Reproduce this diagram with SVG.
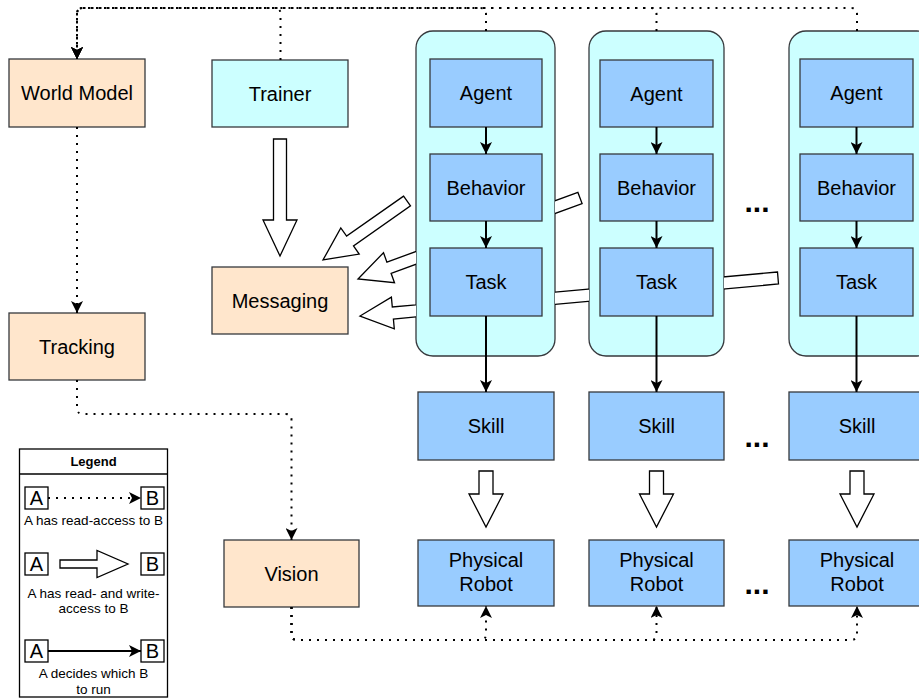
<svg xmlns="http://www.w3.org/2000/svg" width="919" height="698" viewBox="0 0 919 698">
<style>
text{font-family:'Liberation Sans',Arial,Helvetica,sans-serif;fill:#000;text-anchor:middle}
.lbl{font-size:20px}
.peach{fill:#ffe6cc;stroke:#36393d;stroke-width:1.3}
.cyan{fill:#ccffff;stroke:#36393d;stroke-width:1.3}
.blue{fill:#99ccff;stroke:#36393d;stroke-width:1.3}
.solid{fill:none;stroke:#000;stroke-width:2}
.dot{fill:none;stroke:#000;stroke-width:2;stroke-dasharray:2 6}
.block{fill:#fff;stroke:#000;stroke-width:1.3;stroke-linejoin:miter}
.lg{font-size:13.5px}
.ab{font-size:20px}
.box{fill:#fff;stroke:#000;stroke-width:1.3}
.ell{font-size:30px;font-weight:bold}
</style>
<defs>
<marker id="ah" viewBox="0 0 12 12" markerWidth="12" markerHeight="12" refX="12" refY="6" orient="auto" markerUnits="userSpaceOnUse"><path d="M0,0 L12,6 L0,12 L3,6 Z" fill="#000" stroke="none"/></marker>
<clipPath id="gaps"><rect x="0" y="0" width="416" height="698"/><rect x="555" y="0" width="34" height="698"/><rect x="724" y="0" width="65" height="698"/></clipPath>
</defs>

<g id="nodes">
<g id="world-model"><rect class="peach" x="9" y="59" width="136" height="68"/><text class="lbl" x="77" y="100">World Model</text></g>
<g id="trainer"><rect class="cyan" x="212" y="60" width="136" height="67"/><text class="lbl" x="280" y="100.5">Trainer</text></g>
<g id="messaging"><rect class="peach" x="212" y="267" width="136" height="67"/><text class="lbl" x="280" y="307.5">Messaging</text></g>
<g id="tracking"><rect class="peach" x="9" y="313" width="136" height="67"/><text class="lbl" x="77" y="353.5">Tracking</text></g>
<g id="vision"><rect class="peach" x="224" y="540" width="135" height="67"/><text class="lbl" x="291.5" y="580.5">Vision</text></g>

<g id="container-1"><rect class="cyan" x="416" y="31" width="139" height="325" rx="17"/></g>
<g id="container-2"><rect class="cyan" x="589" y="31" width="135" height="325" rx="17"/></g>
<g id="container-3"><rect class="cyan" x="789" y="31" width="145" height="325" rx="17"/></g>

<g id="agent-1"><rect class="blue" x="430" y="59" width="112" height="68"/><text class="lbl" x="486" y="100">Agent</text></g>
<g id="agent-2"><rect class="blue" x="600" y="60" width="113" height="67"/><text class="lbl" x="656.5" y="100.5">Agent</text></g>
<g id="agent-3"><rect class="blue" x="800" y="59" width="113" height="68"/><text class="lbl" x="856.5" y="100">Agent</text></g>

<g id="behavior-1"><rect class="blue" x="430" y="154" width="112" height="67"/><text class="lbl" x="486" y="194.5">Behavior</text></g>
<g id="behavior-2"><rect class="blue" x="600" y="154" width="113" height="67"/><text class="lbl" x="656.5" y="194.5">Behavior</text></g>
<g id="behavior-3"><rect class="blue" x="800" y="154" width="113" height="67"/><text class="lbl" x="856.5" y="194.5">Behavior</text></g>

<g id="task-1"><rect class="blue" x="430" y="248" width="112" height="68"/><text class="lbl" x="486" y="289">Task</text></g>
<g id="task-2"><rect class="blue" x="600" y="248" width="113" height="68"/><text class="lbl" x="656.5" y="289">Task</text></g>
<g id="task-3"><rect class="blue" x="800" y="248" width="113" height="68"/><text class="lbl" x="856.5" y="289">Task</text></g>

<g id="skill-1"><rect class="blue" x="418" y="392" width="136" height="68"/><text class="lbl" x="486" y="433">Skill</text></g>
<g id="skill-2"><rect class="blue" x="589" y="392" width="135" height="68"/><text class="lbl" x="656.5" y="433">Skill</text></g>
<g id="skill-3"><rect class="blue" x="789" y="392" width="136" height="68"/><text class="lbl" x="857" y="433">Skill</text></g>

<g id="robot-1"><rect class="blue" x="418" y="540" width="136" height="66"/><text class="lbl" x="486" y="567">Physical</text><text class="lbl" x="486" y="591">Robot</text></g>
<g id="robot-2"><rect class="blue" x="589" y="540" width="135" height="66"/><text class="lbl" x="656.5" y="567">Physical</text><text class="lbl" x="656.5" y="591">Robot</text></g>
<g id="robot-3"><rect class="blue" x="789" y="540" width="136" height="66"/><text class="lbl" x="857" y="567">Physical</text><text class="lbl" x="857" y="591">Robot</text></g>

<g id="ellipses">
<text class="ell" x="757" y="212">...</text>
<text class="ell" x="757" y="447">...</text>
<text class="ell" x="757" y="594">...</text>
</g>

<g id="legend">
<rect x="19.5" y="449" width="148" height="248" fill="#fff" stroke="#000" stroke-width="1.3"/>
<line x1="19.5" y1="474" x2="167.5" y2="474" stroke="#000" stroke-width="1.3"/>
<text x="93.5" y="466" style="font-size:13px;font-weight:bold">Legend</text>
<rect class="box" x="25" y="487" width="23" height="22"/><text class="ab" x="36.5" y="505">A</text>
<rect class="box" x="141" y="487" width="23" height="22"/><text class="ab" x="152.5" y="505">B</text>
<path class="dot" d="M48,498 L141,498" marker-end="url(#ah)"/>
<text class="lg" x="93.5" y="525">A has read-access to B</text>
<rect class="box" x="25" y="553" width="23" height="22"/><text class="ab" x="36.5" y="571">A</text>
<rect class="box" x="141" y="553" width="23" height="22"/><text class="ab" x="152.5" y="571">B</text>
<polygon class="block" points="60,560 97,560 97,550.5 128,564 97,577.5 97,568 60,568"/>
<text class="lg" x="93.5" y="598">A has read- and write-</text>
<text class="lg" x="93.5" y="613">access to B</text>
<rect class="box" x="25" y="640" width="23" height="22"/><text class="ab" x="36.5" y="658">A</text>
<rect class="box" x="141" y="640" width="23" height="22"/><text class="ab" x="152.5" y="658">B</text>
<path class="solid" d="M48,651 L141,651" marker-end="url(#ah)"/>
<text class="lg" x="93.5" y="678">A decides which B</text>
<text class="lg" x="93.5" y="694">to run</text>
</g>
</g>

<g id="connectors">
<g clip-path="url(#gaps)">
<polygon class="block" points="777.5,272 392.3,307 391.4,297.1 360,316 394.3,328.9 393.4,319 778.5,284"/>
<polygon class="block" points="577.9,192.4 386.9,262.1 383.5,252.7 358,279 394.5,282.7 391.1,273.3 582.1,203.6"/>
<polygon class="block" points="403.6,196.1 346.6,236.1 340.8,227.9 323,260 359.2,254.1 353.5,245.9 410.5,205.9"/>
</g>
<polygon class="block" points="273.5,139 286.5,139 286.5,220 297,220 280,256 263,220 273.5,220"/>
<polygon class="block" points="479,471 493,471 493,494 503,494 486,527 469,494 479,494"/>
<polygon class="block" points="649.5,471 663.5,471 663.5,494 673.5,494 656.5,527 639.5,494 649.5,494"/>
<polygon class="block" points="850,471 864,471 864,494 874,494 857,527 840,494 850,494"/>

<path class="solid" d="M486,127 L486,154" marker-end="url(#ah)"/>
<path class="solid" d="M486,221 L486,248" marker-end="url(#ah)"/>
<path class="solid" d="M486,316 L486,392" marker-end="url(#ah)"/>
<path class="solid" d="M656.5,127 L656.5,154" marker-end="url(#ah)"/>
<path class="solid" d="M656.5,221 L656.5,248" marker-end="url(#ah)"/>
<path class="solid" d="M656.5,316 L656.5,392" marker-end="url(#ah)"/>
<path class="solid" d="M856.5,127 L856.5,154" marker-end="url(#ah)"/>
<path class="solid" d="M856.5,221 L856.5,248" marker-end="url(#ah)"/>
<path class="solid" d="M856.5,316 L856.5,392" marker-end="url(#ah)"/>

<path class="dot" d="M857,31 L857,14 Q857,8 851,8 L83,8 Q77,8 77,14 L77,59" marker-end="url(#ah)"/>
<path class="dot" d="M656.5,31 L656.5,14 Q656.5,8 650.5,8 L83,8 Q77,8 77,14 L77,59" marker-end="url(#ah)"/>
<path class="dot" d="M486,31 L486,14 Q486,8 480,8 L83,8 Q77,8 77,14 L77,59" marker-end="url(#ah)"/>
<path class="dot" d="M280.5,60 L280.5,14 Q280.5,8 274.5,8 L83,8 Q77,8 77,14 L77,59" marker-end="url(#ah)"/>
<path class="dot" d="M77,127 L77,313" marker-end="url(#ah)"/>
<path class="dot" d="M77,380 L77,408 Q77,414 83,414 L285.5,414 Q291.5,414 291.5,420 L291.5,540" marker-end="url(#ah)"/>
<path class="dot" d="M291.5,607 L291.5,634 Q291.5,640 297.5,640 L480,640 Q486,640 486,634 L486,606" marker-end="url(#ah)"/>
<path class="dot" d="M291.5,607 L291.5,634 Q291.5,640 297.5,640 L650.5,640 Q656.5,640 656.5,634 L656.5,606" marker-end="url(#ah)"/>
<path class="dot" d="M291.5,607 L291.5,634 Q291.5,640 297.5,640 L851,640 Q857,640 857,634 L857,606" marker-end="url(#ah)"/>
</g>
</svg>
